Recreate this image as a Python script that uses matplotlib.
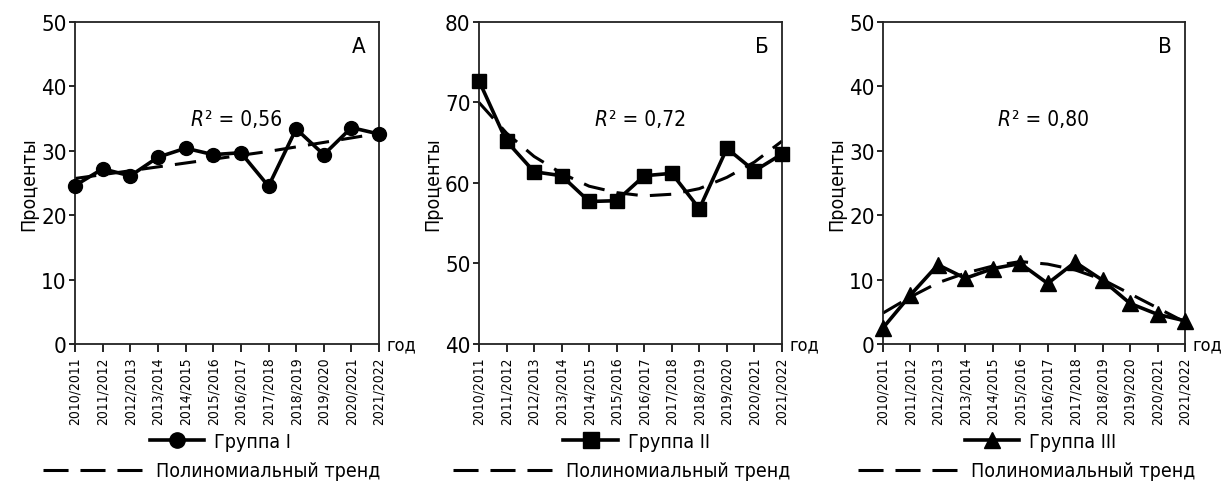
import matplotlib
matplotlib.use('Agg')
import matplotlib.pyplot as plt
from matplotlib.lines import Line2D

plt.rcParams['font.family'] = ['DejaVu Sans']
plt.rcParams['font.stretch'] = 'condensed'

# academic years
years = ['2010/2011', '2011/2012', '2012/2013', '2013/2014', '2014/2015', '2015/2016',
         '2016/2017', '2017/2018', '2018/2019', '2019/2020', '2020/2021', '2021/2022']

# group values, %
group1 = [24.6, 27.2, 26.1, 29.0, 30.4, 29.4, 29.7, 24.5, 33.4, 29.4, 33.6, 32.6]
group2 = [72.7, 65.2, 61.4, 60.9, 57.7, 57.8, 60.9, 61.2, 56.8, 64.3, 61.5, 63.6]
group3 = [2.5, 7.6, 12.3, 10.2, 11.7, 12.5, 9.4, 12.7, 9.9, 6.3, 4.6, 3.6]

# polynomial trend
trend1 = [25.7, 26.3, 26.9, 27.5, 28.1, 28.7, 29.3, 29.9, 30.6, 31.3, 32.0, 32.7]
trend2 = [70.0, 66.2, 63.3, 61.2, 59.6, 58.8, 58.4, 58.6, 59.3, 60.7, 62.6, 65.2]
trend3 = [4.8, 7.3, 9.5, 11.0, 12.1, 12.8, 12.4, 11.5, 10.0, 7.8, 5.6, 3.4]

r2_labels = ['0,56', '0,72', '0,80']
panel_letters = ['А', 'Б', 'В']
group_names = ['Группа I', 'Группа II', 'Группа III']
markers = ['o', 's', '^']
ylims = [(0, 50), (40, 80), (0, 50)]
yticks = [[0, 10, 20, 30, 40, 50], [40, 50, 60, 70, 80], [0, 10, 20, 30, 40, 50]]

series = [group1, group2, group3]
trends = [trend1, trend2, trend3]

fig = plt.figure(figsize=(12.24, 4.85), dpi=100)
lefts = [0.0613, 0.3913, 0.7214]
widths = [0.2484, 0.2476, 0.2467]
# legend centres (figure fraction) for the two legend rows
leg1_x = [0.180, 0.520, 0.850]
leg2_x = [0.173, 0.508, 0.839]

x = list(range(len(years)))
for i in range(3):
    ax = fig.add_axes([lefts[i], 0.2887, widths[i], 0.6639])
    ax.plot(x, series[i], color='black', lw=2.6, marker=markers[i],
            markersize=10 if i < 2 else 11, clip_on=False, zorder=3)
    ax.plot(x, trends[i], color='black', lw=2.2, dashes=(7, 4), clip_on=False, zorder=2)
    ax.set_xlim(0, 11)
    ax.set_ylim(*ylims[i])
    ax.set_yticks(yticks[i])
    ax.set_xticks(x)
    ax.set_xticklabels(years, rotation=90, fontsize=10)
    ax.tick_params(axis='y', labelsize=16, length=4, width=1.2, pad=2)
    ax.tick_params(axis='x', length=6, width=1.2, pad=3)
    for s in ax.spines.values():
        s.set_linewidth(1.3)
        s.set_color('#222222')
    ax.set_ylabel('Проценты', fontsize=14, labelpad=2)
    ax.text(0.955, 0.955, panel_letters[i], transform=ax.transAxes, fontsize=16,
            ha='right', va='top')
    r = ax.text(0.38, 0.70, 'R', transform=ax.transAxes, style='italic',
                fontsize=15, ha='left', va='center')
    ax.annotate('² = ' + r2_labels[i], xy=(1.0, 0.0), xycoords=r, fontsize=15,
                ha='left', va='bottom', xytext=(1, 0), textcoords='offset points')
    ax.text(1.025, 0.0, 'год', transform=ax.transAxes, fontsize=13,
            ha='left', va='center')

    h1 = Line2D([], [], color='black', lw=2.6, marker=markers[i], markersize=11)
    h2 = Line2D([], [], color='black', lw=2.2, dashes=(8.2, 3.9))
    fig.legend([h1], [group_names[i]], loc='center', bbox_to_anchor=(leg1_x[i], 0.087),
               frameon=False, fontsize=14, handlelength=2.8, handletextpad=0.5,
               borderpad=0, borderaxespad=0)
    fig.legend([h2], ['Полиномиальный тренд'], loc='center',
               bbox_to_anchor=(leg2_x[i], 0.027), frameon=False, fontsize=14,
               handlelength=5.1, handletextpad=0.7, borderpad=0, borderaxespad=0)

fig.savefig('out.png', dpi=100)
